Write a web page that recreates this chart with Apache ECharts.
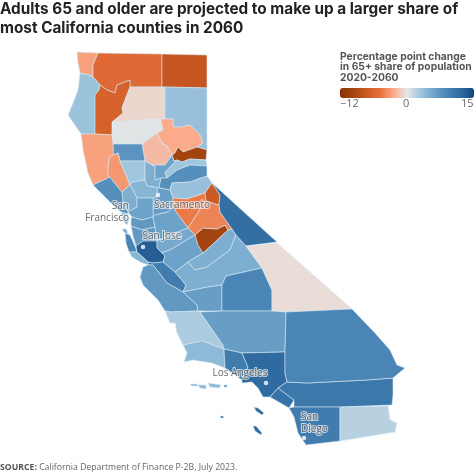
<!DOCTYPE html>
<html><head><meta charset="utf-8">
<style>html,body{margin:0;padding:0;background:#fff}#c{width:474px;height:474px}</style>
<script src="https://cdn.jsdelivr.net/npm/echarts@6/dist/echarts.min.js"></script>
</head><body><div id="c"></div>
<script>
const countyNames = ["Del Norte","Siskiyou","Modoc","Humboldt","Trinity","Shasta","Lassen","Tehama","Plumas","Butte","Sierra","Glenn","Mendocino","Lake","Colusa","Sutter","Yuba","Nevada","Placer","El Dorado","Sacramento","Yolo","Napa","Sonoma","Marin","Solano","Contra Costa","San Joaquin","Alameda","San Francisco","San Mateo","Santa Clara","Santa Cruz","San Benito","Monterey","Stanislaus","Merced","Mariposa","Madera","Fresno","Kings","Tulare","Amador","Tuolumne","Alpine","Mono","Inyo","San Luis Obispo","Kern","Santa Barbara","Ventura","Los Angeles","Orange","Riverside","San Bernardino","San Diego","Imperial"];
const countyValues = [-3.5,-7,-9.5,3.3,-8,-0.8,3.5,0.2,-3,-2.2,-12,7.5,-3.5,-4,3,5,6,3,8,3.5,6.5,4.5,5,8,4,6,7,6,7,6,9,13,4.5,10,7,5.5,6,-12,5,5,6.5,9,-5.5,-5,-9,11.5,-0.5,2.5,6.5,4,10,12,11,10.5,9,10,2];
const countyOutlines = {
"Del Norte":[[[77,52],[98,53],[93,65],[93,77],[89,75],[80,73],[78,63]]],
"Siskiyou":[[[98,53],[162,54],[162,87],[130,87],[130,80],[117,85],[115,93],[107,90],[100,85],[93,77],[93,65]]],
"Modoc":[[[162,54],[207,55],[207,88],[162,87]]],
"Humboldt":[[[80,73],[89,75],[93,77],[100,85],[99,90],[95,95],[95,134],[81,134],[68,115],[73,103],[78,90]]],
"Trinity":[[[100,85],[107,90],[115,93],[117,85],[130,80],[130,87],[122,108],[123,113],[112,122],[112,135],[95,134],[95,95],[99,90]]],
"Shasta":[[[130,87],[162,87],[165,87],[165,119],[161,119],[113,122],[112,122],[123,113],[122,108]]],
"Lassen":[[[165,87],[207,88],[207,150],[197,147],[203,143],[200,135],[190,125],[182,127],[173,127],[173,119],[165,119]]],
"Tehama":[[[113,122],[161,119],[163,130],[157,133],[142,144],[113,144],[112,135]]],
"Plumas":[[[161,119],[173,119],[173,127],[182,127],[190,125],[200,135],[203,143],[197,147],[183,152],[178,147],[175,153],[172,155],[167,146],[162,143],[157,133],[163,130]]],
"Butte":[[[157,133],[162,143],[167,146],[172,155],[165,165],[152,165],[145,161],[142,144]]],
"Sierra":[[[178,147],[183,152],[197,147],[207,150],[206,160],[190,159],[182,162],[177,160],[174,161],[172,155],[175,153]]],
"Glenn":[[[113,144],[142,144],[145,161],[120,161],[118,153],[113,155]]],
"Mendocino":[[[81,134],[95,134],[112,135],[113,144],[113,155],[109,158],[108,168],[108,175],[110,177],[93,185],[88,173],[83,150]]],
"Lake":[[[109,158],[113,155],[118,153],[120,161],[128,180],[130,185],[122,192],[120,190],[110,177],[108,175],[108,168]]],
"Colusa":[[[120,161],[145,161],[145,180],[132,182],[130,185],[128,180]]],
"Sutter":[[[145,161],[152,165],[155,166],[155,180],[161,178],[159,188],[157,188],[155,187],[147,186],[145,180]]],
"Yuba":[[[155,166],[152,165],[165,165],[172,155],[174,161],[177,160],[165,172],[167,178],[161,178],[155,180]]],
"Nevada":[[[177,160],[182,162],[190,159],[206,160],[207,166],[190,165],[177,170],[167,178],[165,172]]],
"Placer":[[[167,178],[177,170],[190,165],[207,166],[207,176],[190,182],[172,183],[170,190],[159,188],[161,178]]],
"El Dorado":[[[170,190],[172,183],[190,182],[207,176],[212,183],[205,193],[187,199],[173,198]]],
"Sacramento":[[[157,188],[159,188],[170,190],[173,198],[173,207],[168,212],[155,215],[153,217],[153,198],[157,197]]],
"Yolo":[[[130,185],[132,182],[145,180],[147,186],[155,187],[157,188],[157,197],[153,198],[137,198],[133,190]]],
"Napa":[[[122,192],[130,185],[133,190],[137,198],[137,207],[128,212],[123,203]]],
"Sonoma":[[[93,185],[110,177],[120,190],[122,192],[123,203],[128,212],[128,214],[121,212],[115,207],[105,197]]],
"Marin":[[[121,212],[128,214],[130,218],[127,225],[123,221]]],
"Solano":[[[137,198],[153,198],[153,217],[142,220],[132,217],[128,212],[137,207]]],
"Contra Costa":[[[131,219],[132,217],[142,220],[153,217],[155,227],[142,230],[131,226]]],
"San Joaquin":[[[155,227],[153,217],[155,215],[168,212],[173,207],[177,213],[188,228],[175,233],[157,241]]],
"Alameda":[[[131,226],[142,230],[155,227],[157,241],[143,241],[136,246],[133,236]]],
"San Francisco":[[[122,229],[126,229],[128,233],[125,233]]],
"San Mateo":[[[125,233],[130,235],[135,246],[137,252],[129,252],[126,243]]],
"Santa Clara":[[[136,246],[143,241],[157,241],[157,248],[162,253],[165,256],[163,262],[153,263],[148,262],[137,252]]],
"Santa Cruz":[[[129,252],[137,252],[148,262],[148,265],[140,262],[132,257]]],
"San Benito":[[[148,262],[153,263],[163,262],[175,272],[186,285],[183,292],[167,283],[153,265],[148,265]]],
"Monterey":[[[148,265],[153,265],[167,283],[183,292],[197,305],[198,311],[170,312],[165,311],[158,300],[143,285],[140,277],[143,267]]],
"Stanislaus":[[[157,241],[175,233],[188,228],[195,235],[170,250],[162,253],[157,248]]],
"Merced":[[[162,253],[170,250],[195,235],[198,245],[203,253],[188,262],[175,272],[163,262],[165,256]]],
"Mariposa":[[[195,235],[203,228],[217,229],[225,225],[228,230],[212,245],[203,253],[198,245]]],
"Madera":[[[203,253],[212,245],[228,230],[232,229],[236,235],[230,250],[207,267],[195,270],[188,262]]],
"Fresno":[[[188,262],[195,270],[207,267],[230,250],[236,235],[246,246],[262,268],[226,276],[222,285],[208,287],[183,292],[186,285],[175,272]]],
"Kings":[[[183,292],[208,287],[222,285],[222,311],[198,311],[197,305]]],
"Tulare":[[[222,285],[226,276],[262,268],[272,290],[272,311],[222,311]]],
"Amador":[[[173,198],[187,199],[205,193],[206,201],[203,205],[188,228],[177,213],[173,207]]],
"Tuolumne":[[[206,201],[219,205],[220,212],[232,229],[228,230],[225,225],[217,229],[203,228],[195,235],[188,228],[203,205]]],
"Alpine":[[[205,193],[212,183],[220,195],[219,205],[206,201]]],
"Mono":[[[212,183],[277,242],[246,246],[236,235],[232,229],[220,212],[219,205],[220,195]]],
"Inyo":[[[246,246],[277,243],[352,309],[286,312],[272,311],[272,290],[262,268]]],
"San Luis Obispo":[[[165,311],[170,312],[198,311],[200,312],[223,345],[224,349],[202,341],[183,345],[177,333],[175,323],[170,323]]],
"Kern":[[[200,312],[222,311],[272,311],[286,312],[285,352],[242,353],[224,349],[223,345]]],
"Santa Barbara":[[[183,345],[202,341],[224,349],[225,368],[212,363],[193,360],[184,362],[187,353]],[[190,384],[197,384],[198,386],[192,386]],[[198,385],[206,385],[206,389],[200,388]],[[208,383],[221,385],[219,388],[210,387]]],
"Ventura":[[[224,349],[242,353],[248,367],[242,380],[232,373],[225,368]],[[224,385],[227,385],[227,387],[224,387]]],
"Los Angeles":[[[242,353],[285,352],[285,373],[287,382],[278,388],[270,397],[263,397],[258,388],[252,382],[242,383],[242,380],[248,367]],[[254,407],[258,408],[264,413],[262,415],[256,411]],[[253,426],[256,426],[262,433],[261,435],[255,431]],[[220,416],[223,416],[224,418],[221,418]]],
"Orange":[[[270,397],[278,388],[294,400],[289,408]]],
"Riverside":[[[278,388],[287,382],[307,383],[367,380],[393,378],[393,395],[392,405],[340,407],[294,407],[294,400]]],
"San Bernardino":[[[286,312],[352,309],[375,333],[390,350],[397,365],[405,368],[393,378],[367,380],[307,383],[287,382],[285,373],[285,352]]],
"San Diego":[[[289,408],[294,407],[340,407],[340,441],[306,445],[298,433],[294,417]]],
"Imperial":[[[340,407],[388,406],[390,420],[397,423],[395,432],[340,441]]]
};
const cityNames = ["Sacramento","San\nFrancisco","San Jose","Los Angeles","San\nDiego"];
const cityPoints = [[158,195],[128,217],[143,247],[266,383],[304,438]];
const cityLabelOffsets = [[24,10],[1,-5],[19,-11],[-26,-10],[-3,-15]];
const cityLabelAligns = ["center","right","center","center","left"];
const legendStops = ["#8a3507","#a3430f","#cc5a23","#e8713c","#fbaa8a","#e6e6e6","#a0c6de","#6ea3c9","#4a85b5","#2f6aa0","#0f4780"];
const titleLines = "Adults 65 and older are projected to make up a larger share of\nmost California counties in 2060";
const legendTitle = "Percentage point change\nin 65+ share of population\n2020-2060";
const legendTicks = ["\u221212","0","15"];

const geoJson = {type:"FeatureCollection",features:countyNames.map(n=>({type:"Feature",properties:{name:n},geometry:{type:"MultiPolygon",coordinates:countyOutlines[n].map(r=>[r])}}))};
let xs=[],ys=[];
Object.values(countyOutlines).forEach(ps=>ps.forEach(r=>r.forEach(p=>{xs.push(p[0]);ys.push(p[1]);})));
const minX=Math.min(...xs),maxX=Math.max(...xs),minY=Math.min(...ys),maxY=Math.max(...ys);
echarts.registerMap("CA",geoJson);
const chart=echarts.init(document.getElementById("c"),null,{renderer:"canvas"});
chart.setOption({
  animation:false,
  title:{text:titleLines,left:0,top:0,padding:0,textStyle:{fontFamily:"Inter",fontWeight:700,fontSize:15.3,lineHeight:19,color:"#222"}},
  geo:{map:"CA",roam:false,silent:true,
    projection:{project:p=>p,unproject:p=>p},
    left:minX,top:minY,width:maxX-minX,height:maxY-minY,
    itemStyle:{borderColor:"rgba(214,232,243,0.85)",borderWidth:0.7,areaColor:"#ccc"},
    label:{show:false},emphasis:{disabled:true}},
  visualMap:{type:"continuous",min:-15,max:15,seriesIndex:0,orient:"horizontal",left:340,top:88,padding:0,itemWidth:10,itemHeight:134,calculable:false,realtime:false,showLabel:false,hoverLink:false,inRange:{color:legendStops}},
  series:[
    {type:"map",geoIndex:0,silent:true,data:countyNames.map((n,i)=>({name:n,value:countyValues[i]}))},
    {type:"scatter",coordinateSystem:"geo",geoIndex:0,silent:true,symbolSize:4.5,itemStyle:{color:"#fff"},z:5,
     data:cityNames.map((n,i)=>({name:n,value:cityPoints[i],label:{offset:cityLabelOffsets[i],align:cityLabelAligns[i]}})),
     label:{show:true,position:"inside",formatter:p=>p.name,fontFamily:"Open Sans",fontSize:10,lineHeight:12,color:"#444",textBorderColor:"rgba(255,255,255,0.85)",textBorderWidth:2}}
  ],
  graphic:[
    {type:"text",left:340,top:51,style:{text:legendTitle,font:"700 10.3px Inter",lineHeight:10.8,fill:"#555"}},
    {type:"text",left:340,top:98,style:{text:legendTicks[0],font:"11px 'Open Sans'",fill:"#666"}},
    {type:"text",left:403,top:98,style:{text:legendTicks[1],font:"11px 'Open Sans'",fill:"#666"}},
    {type:"text",left:461,top:98,style:{text:legendTicks[2],font:"11px 'Open Sans'",fill:"#666"}},
    {type:"text",left:0,top:463,style:{text:"{b|SOURCE:} California Department of Finance P-2B, July 2023.",rich:{b:{fontWeight:700,fontFamily:"Open Sans",fontSize:8.7,fill:"#555"}},font:"8.7px 'Open Sans'",fill:"#666"}}
  ]
});
</script></body></html>
